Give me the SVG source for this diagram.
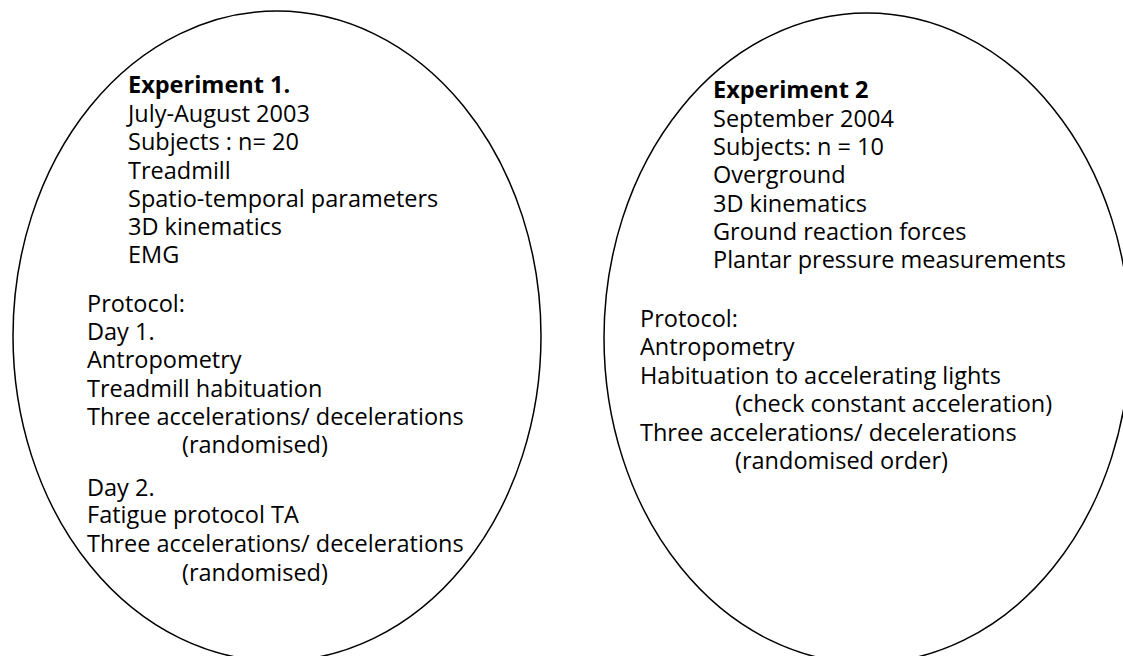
<svg xmlns="http://www.w3.org/2000/svg" width="1123" height="656" viewBox="0 0 1123 656">
<style>
.t{font-family:"Open Sans","Liberation Sans",sans-serif;font-size:23.5px;fill:#000}
.b{font-weight:bold}
.e{fill:none;stroke:#000;stroke-width:1.5}
</style>
<rect width="1123" height="656" fill="#fff"/>
<g id="experiment1">
<ellipse class="e" cx="277" cy="336" rx="264" ry="325"/>
<text class="t b" x="128" y="93">Experiment 1.</text>
<text class="t" x="128" y="122">July-August 2003</text>
<text class="t" x="128" y="150">Subjects : n= 20</text>
<text class="t" x="128" y="179">Treadmill</text>
<text class="t" x="128" y="207">Spatio-temporal parameters</text>
<text class="t" x="128" y="235">3D kinematics</text>
<text class="t" x="128" y="263">EMG</text>
<text class="t" x="87" y="312">Protocol:</text>
<text class="t" x="87" y="340">Day 1.</text>
<text class="t" x="87" y="368">Antropometry</text>
<text class="t" x="87" y="397">Treadmill habituation</text>
<text class="t" x="87" y="425">Three accelerations/ decelerations</text>
<text class="t" x="182" y="453">(randomised)</text>
<text class="t" x="87" y="496">Day 2.</text>
<text class="t" x="87" y="523">Fatigue protocol TA</text>
<text class="t" x="87" y="552">Three accelerations/ decelerations</text>
<text class="t" x="182" y="581">(randomised)</text>
</g>
<g id="experiment2">
<ellipse class="e" cx="867" cy="338" rx="263" ry="325"/>
<text class="t b" x="713" y="98">Experiment 2</text>
<text class="t" x="713" y="127">September 2004</text>
<text class="t" x="713" y="155">Subjects: n = 10</text>
<text class="t" x="713" y="183">Overground</text>
<text class="t" x="713" y="212">3D kinematics</text>
<text class="t" x="713" y="240">Ground reaction forces</text>
<text class="t" x="713" y="268">Plantar pressure measurements</text>
<text class="t" x="640" y="327">Protocol:</text>
<text class="t" x="640" y="355">Antropometry</text>
<text class="t" x="640" y="384">Habituation to accelerating lights</text>
<text class="t" x="735" y="412">(check constant acceleration)</text>
<text class="t" x="640" y="441">Three accelerations/ decelerations</text>
<text class="t" x="735" y="469">(randomised order)</text>
</g>
<g id="connectors"/>
</svg>
